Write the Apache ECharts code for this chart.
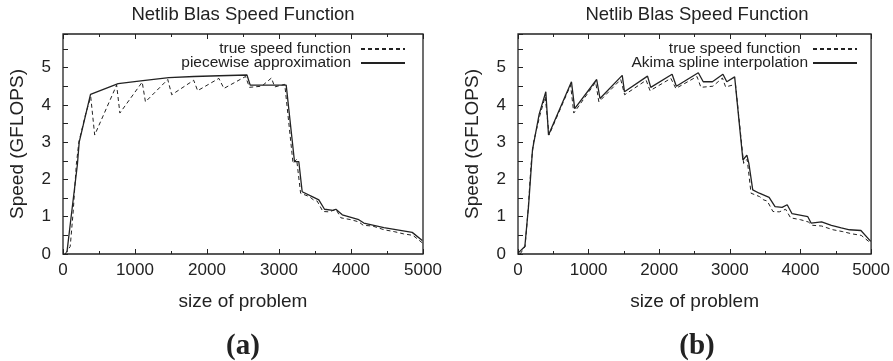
<!DOCTYPE html>
<html>
<head>
<meta charset="utf-8">
<script src="https://cdn.jsdelivr.net/npm/echarts@6/dist/echarts.min.js"></script>
<style>
  html, body { margin: 0; padding: 0; background: #fff; }
  #chart { width: 893px; height: 361px; }
</style>
</head>
<body>
<div id="chart"></div>
<script>
// true speed function (same measurements in both panels)
const trueSize = [30, 100, 140, 185, 220, 310, 385, 440, 745, 790, 1100, 1145, 1455, 1510, 1815, 1870, 2165, 2235, 2535, 2590, 2760, 2895, 2940, 3080, 3195, 3245, 3300, 3420, 3480, 3530, 3610, 3700, 3790, 3860, 4000, 4110, 4170, 4300, 4460, 4600, 4730, 4860, 4990];
const trueSpeed = [0.0, 0.2, 1.1, 2.4, 3.0, 3.72, 4.22, 3.19, 4.53, 3.78, 4.61, 4.08, 4.68, 4.27, 4.66, 4.38, 4.71, 4.44, 4.76, 4.47, 4.5, 4.72, 4.48, 4.55, 2.43, 2.54, 1.63, 1.54, 1.45, 1.42, 1.14, 1.13, 1.2, 0.97, 0.92, 0.86, 0.77, 0.75, 0.65, 0.6, 0.54, 0.5, 0.3];

// (a) piecewise approximation
const approxSize = [55, 113, 200, 225, 382, 766, 1110, 1470, 1820, 2170, 2555, 2600, 3100, 3215, 3275, 3322, 3461, 3553, 3632, 3750, 3790, 3879, 4108, 4178, 4456, 4850, 4990];
const approxSpeed = [0.05, 1.0, 2.4, 3.0, 4.28, 4.57, 4.65, 4.73, 4.76, 4.78, 4.8, 4.53, 4.53, 2.48, 2.48, 1.67, 1.54, 1.45, 1.2, 1.17, 1.2, 1.05, 0.92, 0.83, 0.71, 0.58, 0.36];

// (b) Akima spline interpolation
const akimaSize = [4, 97, 150, 205, 300, 394, 432, 757, 803, 1114, 1161, 1476, 1508, 1834, 1880, 2182, 2242, 2553, 2623, 2753, 2902, 2957, 3068, 3185, 3241, 3269, 3324, 3417, 3556, 3640, 3740, 3812, 3881, 4104, 4150, 4299, 4438, 4578, 4694, 4856, 4995];
const akimaSpeed = [0.03, 0.2, 1.3, 2.79, 3.75, 4.35, 3.19, 4.62, 3.9, 4.68, 4.17, 4.79, 4.35, 4.77, 4.47, 4.82, 4.5, 4.86, 4.62, 4.62, 4.82, 4.62, 4.75, 2.52, 2.65, 2.43, 1.72, 1.63, 1.52, 1.27, 1.25, 1.32, 1.08, 1.0, 0.83, 0.86, 0.77, 0.7, 0.65, 0.63, 0.34];

const xTicks = { min: 0, max: 5000, interval: 1000 };
const yTicks = { min: 0, max: 5.9, interval: 0.5 };

const zip = (xs, ys) => xs.map((x, i) => [x, ys[i]]);

const sans = 'Liberation Sans, Arial, sans-serif';
const serif = 'Liberation Serif, Times New Roman, serif';
const ink = '#222';

function bottomAxis(gridIndex) {
  return {
    type: 'value', gridIndex, position: 'bottom',
    min: xTicks.min, max: xTicks.max, interval: xTicks.interval,
    name: 'size of problem', nameLocation: 'middle', nameGap: 38,
    nameTextStyle: { fontFamily: sans, fontSize: 19, color: ink },
    axisLine: { show: false },
    axisTick: { inside: true, length: 5, lineStyle: { color: ink, width: 1 } },
    minorTick: { show: true, splitNumber: 2, length: 3, lineStyle: { color: ink, width: 1 } },
    axisLabel: { fontFamily: sans, fontSize: 17, color: ink, margin: 8, formatter: v => String(v) },
    splitLine: { show: false }
  };
}
function topAxis(gridIndex) {
  return {
    type: 'value', gridIndex, position: 'top',
    min: xTicks.min, max: xTicks.max, interval: xTicks.interval,
    axisLine: { show: false },
    axisTick: { inside: true, length: 5, lineStyle: { color: ink, width: 1 } },
    minorTick: { show: true, splitNumber: 2, length: 3, lineStyle: { color: ink, width: 1 } },
    axisLabel: { show: false },
    splitLine: { show: false }
  };
}
function leftAxis(gridIndex) {
  return {
    type: 'value', gridIndex,
    min: yTicks.min, max: yTicks.max, interval: yTicks.interval,
    name: 'Speed (GFLOPS)', nameLocation: 'middle', nameGap: 36,
    nameTextStyle: { fontFamily: sans, fontSize: 19, color: ink },
    axisLine: { show: false },
    axisTick: { inside: true, length: 5, lineStyle: { color: ink, width: 1 } },
    axisLabel: {
      fontFamily: sans, fontSize: 17, color: ink, margin: 12,
      formatter: v => Number.isInteger(v) ? String(v) : ''
    },
    splitLine: { show: false }
  };
}

function line(name, xi, yi, data, dashed) {
  return {
    name, type: 'line', xAxisIndex: xi, yAxisIndex: yi,
    data, symbol: 'none', showSymbol: false, animation: false,
    itemStyle: { color: ink },
    lineStyle: dashed ? { color: ink, width: 1, type: [4, 3] } : { color: ink, width: 1.3 }
  };
}

function legendRow(name, right, top, gap) {
  return {
    data: [name], orient: 'vertical', right, top, align: 'right',
    itemWidth: 44, itemHeight: 10, padding: 0, selectedMode: false,
    itemStyle: { opacity: 0 },
    textStyle: { fontFamily: sans, fontSize: 15.5, color: ink, lineHeight: 14, padding: [0, gap, 0, 0] }
  };
}

const chart = echarts.init(document.getElementById('chart'), null, { renderer: 'canvas' });
chart.setOption({
  animation: false,
  backgroundColor: '#fff',
  grid: [
    { left: 63, right: 470, top: 34, bottom: 107, show: true, borderColor: ink, borderWidth: 1.3, backgroundColor: 'transparent' },
    { left: 518, right: 16, top: 34, bottom: 107, show: true, borderColor: ink, borderWidth: 1.3, backgroundColor: 'transparent' }
  ],
  xAxis: [bottomAxis(0), bottomAxis(1), topAxis(0), topAxis(1)],
  yAxis: [leftAxis(0), leftAxis(1)],
  legend: [
    legendRow('true speed function', 487, 41, 5),
    legendRow('piecewise approximation', 487, 55, 5),
    legendRow('true speed function ', 35, 41, 3),
    legendRow('Akima spline interpolation', 35, 55, 0)
  ],
  series: [
    line('true speed function', 0, 0, zip(trueSize, trueSpeed), true),
    line('piecewise approximation', 0, 0, zip(approxSize, approxSpeed), false),
    line('true speed function ', 1, 1, zip(trueSize, trueSpeed), true),
    line('Akima spline interpolation', 1, 1, zip(akimaSize, akimaSpeed), false)
  ],
  graphic: [
    { type: 'text', x: 243, y: 15, style: { text: 'Netlib Blas Speed Function', fontFamily: sans, fontSize: 18.5, fill: ink, align: 'center', verticalAlign: 'middle' } },
    { type: 'text', x: 697, y: 15, style: { text: 'Netlib Blas Speed Function', fontFamily: sans, fontSize: 18.5, fill: ink, align: 'center', verticalAlign: 'middle' } },
    { type: 'text', x: 243, y: 347, style: { text: '(a)', fontFamily: serif, fontWeight: 'bold', fontSize: 29, fill: ink, align: 'center', verticalAlign: 'middle' } },
    { type: 'text', x: 697, y: 347, style: { text: '(b)', fontFamily: serif, fontWeight: 'bold', fontSize: 29, fill: ink, align: 'center', verticalAlign: 'middle' } }
  ]
});
</script>
</body>
</html>
